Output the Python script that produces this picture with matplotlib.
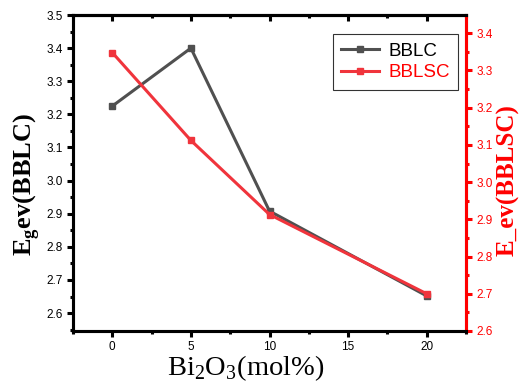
import numpy as np
import matplotlib.pyplot as plt
from matplotlib.ticker import MultipleLocator, AutoMinorLocator

# Bi2O3 content (mol%)
bi2o3 = [0, 5, 10, 20]
# band gap values
eg_bblc = [3.225, 3.40, 2.908, 2.652]
eg_bblsc = [3.348, 3.112, 2.913, 2.700]

gray = '#505050'
red = '#f0343c'

plt.rcParams['font.family'] = ['Liberation Sans', 'DejaVu Sans']
plt.rcParams['mathtext.fontset'] = 'custom'
plt.rcParams['mathtext.rm'] = 'Liberation Serif'

fig = plt.figure(figsize=(5.21, 3.83), dpi=100)
ax = fig.add_axes([73 / 521, 1 - 331 / 383, 393 / 521, 316 / 383])
ax2 = ax.twinx()

l1, = ax.plot(bi2o3, eg_bblc, '-s', color=gray, lw=2.2, ms=4.5, label='BBLC')
l2, = ax2.plot(bi2o3, eg_bblsc, '-s', color=red, lw=2.2, ms=4.5, label='BBLSC')

ax.set_xlim(-2.5, 22.5)
ax.set_ylim(2.546, 3.5)
ax2.set_ylim(2.6, 3.449)

ax.xaxis.set_major_locator(MultipleLocator(5))
ax.xaxis.set_minor_locator(AutoMinorLocator(2))
ax.yaxis.set_major_locator(MultipleLocator(0.1))
ax.yaxis.set_minor_locator(AutoMinorLocator(2))
ax2.yaxis.set_major_locator(MultipleLocator(0.1))
ax2.yaxis.set_minor_locator(AutoMinorLocator(2))

for s in ax.spines.values():
    s.set_linewidth(2.2)
for s in ax2.spines.values():
    s.set_linewidth(2.2)
ax2.spines['right'].set_color('red')

ax.tick_params(axis='x', which='both', direction='out', top=False, width=2.2, labelsize=8.5)
ax.tick_params(axis='x', which='major', length=4)
ax.tick_params(axis='x', which='minor', length=2.5)
ax.tick_params(axis='y', which='both', direction='out', width=2.2, labelsize=8.5)
ax.tick_params(axis='y', which='major', length=4)
ax.tick_params(axis='y', which='minor', length=2.5)
ax2.tick_params(axis='y', which='both', direction='out', width=2.2, colors='red', labelsize=8.5)
ax2.tick_params(axis='y', which='major', length=4)
ax2.tick_params(axis='y', which='minor', length=2.5)

# inward ticks along the top spine
sec = ax.secondary_xaxis('top')
sec.xaxis.set_major_locator(MultipleLocator(5))
sec.xaxis.set_minor_locator(AutoMinorLocator(2))
sec.tick_params(which='both', direction='in', width=2.2, labeltop=False)
sec.tick_params(which='major', length=4)
sec.tick_params(which='minor', length=2.5)
sec.spines['top'].set_linewidth(2.2)

ax.set_xlabel('Bi$_2$O$_3$(mol%)', family='Liberation Serif', fontsize=20.5)
ax.xaxis.set_label_coords(0.44, -0.07)
ax.set_ylabel('E$_\\mathregular{g}$ev(BBLC)', family='Liberation Serif', fontsize=19,
              fontweight='bold')
ax.yaxis.set_label_coords(-0.078, 0.465)
ax2.set_ylabel('E_ev(BBLSC)', family='Liberation Serif', fontsize=18,
               fontweight='bold', color='red')
ax2.yaxis.set_label_coords(1.078, 0.478)

leg = ax.legend([l1, l2], ['BBLC', 'BBLSC'], loc='upper right',
                bbox_to_anchor=(0.98, 0.94), borderaxespad=0, fontsize=13.5,
                frameon=True, fancybox=False, edgecolor='black', handlelength=2.0,
                handletextpad=0.5, borderpad=0.45, labelspacing=0.25)
leg.get_frame().set_linewidth(0.8)
leg.get_texts()[1].set_color('red')

fig.savefig('out.png', dpi=100)
